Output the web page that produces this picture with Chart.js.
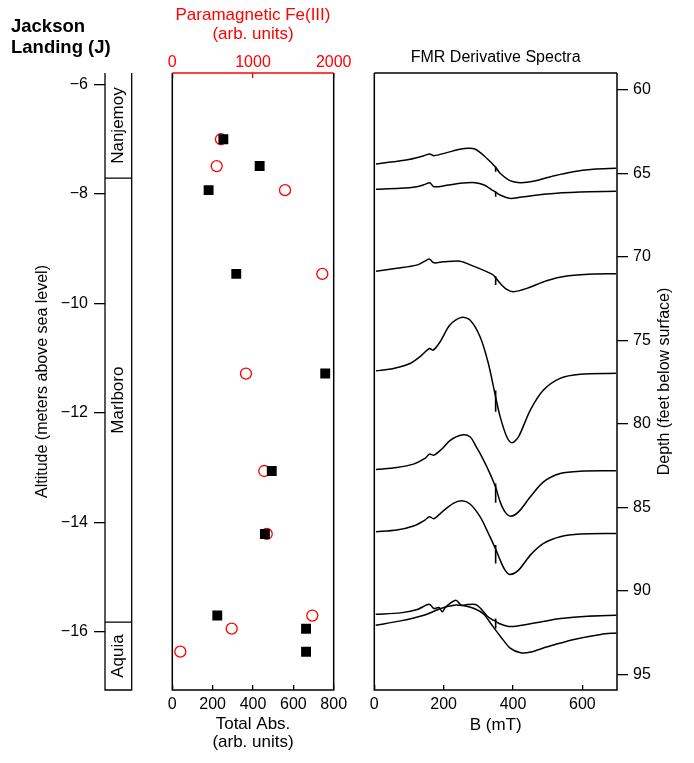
<!DOCTYPE html>
<html>
<head>
<meta charset="utf-8">
<script src="https://cdn.jsdelivr.net/npm/chart.js@4"></script>
<style>
  html, body { margin: 0; padding: 0; background: #fff; }
  #wrap { position: relative; width: 694px; height: 763px; }
  #wrap canvas { position: absolute; left: 0; top: 0; }
</style>
</head>
<body>
<div id="wrap">
  <canvas id="column" width="694" height="763"></canvas>
  <canvas id="scatter" width="694" height="763"></canvas>
  <canvas id="fmr" width="694" height="763"></canvas>
</div>
<script>
// ---- data ----
const altMin = -17.06, altMax = -5.79;
const altTicks = [-6, -8, -10, -12, -14, -16];
const formations = ["Nanjemoy", "Marlboro", "Aquia"];
const formationTops = [-5.79, -7.71, -15.82];
const formationBases = [-7.71, -15.82, -17.06];

const sampleAlt = [-7.00, -7.49, -7.93, -9.46, -11.28, -13.06, -14.21, -15.70, -15.94, -16.36];
const totalAbs  = [253, 433, 180, 317, 758, 493, 459, 223, 663, 663];
const fe3       = [603, 550, 1397, 1859, 913, 1140, 1170, 1735, 736, 99];
const totalAbsTicks = [0, 200, 400, 600, 800];
const fe3Ticks = [0, 1000, 2000];

const fieldTicks = [0, 200, 400, 600];
const depthMin = 58.98, depthMax = 95.94;
const depthTicks = [60, 65, 70, 75, 80, 85, 90, 95];

// FMR derivative spectra: [B (mT), depth (ft)]
const spec1 = [[5,64.43],[55,64.30],[103,64.15],[141,63.95],[160,63.83],[172,63.93],[209,63.75],[247,63.55],[271,63.49],[290,63.53],[314,63.89],[339,64.39],[350,64.62],[363,64.99],[391,65.43],[420,65.55],[459,65.47],[516,65.15],[574,64.89],[632,64.75],[697,64.69]];
const spec2 = [[5,65.95],[74,65.89],[122,65.79],[146,65.65],[160,65.55],[172,65.79],[209,65.71],[247,65.59],[290,65.55],[317,65.69],[343,66.03],[350,66.12],[363,66.29],[391,66.49],[420,66.43],[497,66.23],[593,66.11],[697,66.07]];
const spec3 = [[5,70.86],[65,70.68],[122,70.49],[146,70.25],[159,70.13],[172,70.35],[199,70.29],[247,70.25],[286,70.55],[324,70.88],[343,71.08],[350,71.25],[363,71.58],[382,71.94],[401,72.08],[440,71.88],[497,71.42],[555,71.14],[632,71.02],[697,71.00]];
const spec4 = [[5,76.82],[55,76.68],[103,76.38],[137,75.88],[159,75.48],[170,75.58],[190,75.08],[218,74.08],[252,73.62],[276,73.78],[305,74.78],[329,76.38],[350,78.40],[363,79.57],[382,80.77],[397,81.13],[416,80.77],[450,79.17],[488,77.97],[536,77.27],[594,77.03],[697,76.97]];
const spec5 = [[5,82.73],[65,82.61],[113,82.41],[146,82.07],[159,81.81],[172,81.87],[195,81.50],[218,81.00],[252,80.67],[276,80.77],[294,81.37],[305,81.77],[329,82.77],[350,83.80],[363,84.67],[377,85.27],[393,85.53],[416,85.27],[450,84.37],[488,83.47],[536,82.97],[594,82.83],[697,82.81]];
const spec6 = [[5,86.46],[65,86.36],[113,86.12],[146,85.76],[159,85.56],[172,85.68],[199,85.21],[228,84.76],[252,84.61],[276,84.80],[305,85.56],[329,86.56],[350,87.50],[363,88.16],[377,88.76],[391,89.02],[416,88.76],[450,87.86],[488,87.16],[536,86.76],[594,86.60],[697,86.56]];
const spec7 = [[4,91.40],[76,91.32],[124,91.12],[158,90.80],[172,91.06],[187,91.00],[196,91.26],[206,90.96],[235,90.56],[251,90.86],[268,90.82],[292,90.82],[307,91.06],[326,91.52],[340,91.72],[350,91.82],[360,91.96],[384,92.12],[413,92.10],[480,91.86],[538,91.66],[615,91.52],[698,91.46]];
const spec8 = [[4,92.06],[76,91.80],[143,91.46],[192,91.06],[230,90.86],[259,90.90],[288,91.06],[316,91.40],[336,91.96],[365,92.76],[393,93.45],[422,93.71],[451,93.67],[499,93.35],[576,92.91],[653,92.61],[698,92.52]];
const spectra = [spec1, spec2, spec3, spec4, spec5, spec6, spec7, spec8];

// short vertical marker at B = 350 mT on spectra 1-7: [top, bottom] depth
const markerB = 350;
const markerTop    = [64.59, 66.08, 71.15, 78.00, 83.57, 87.26, 91.66];
const markerBottom = [64.89, 66.39, 71.68, 79.27, 84.73, 88.36, 92.25];

// ---- shared setup ----
const FONT = "'Liberation Sans', Arial, Helvetica, sans-serif";
Chart.defaults.font.family = FONT;
Chart.defaults.color = "#000";
Chart.defaults.animation = false;
Chart.defaults.responsive = false;
Chart.defaults.plugins.legend.display = false;
Chart.defaults.plugins.tooltip.enabled = false;

const minus = v => (v < 0 ? "\u2212" + Math.abs(v) : String(v));
const fixTicks = arr => s => { s.ticks = arr.map(v => ({ value: v })); };

function frame(ctx, a, topColor) {
  ctx.save();
  ctx.lineWidth = 1.5;
  ctx.strokeStyle = "#000";
  ctx.beginPath();
  ctx.moveTo(a.left, a.top);
  ctx.lineTo(a.left, a.bottom);
  ctx.lineTo(a.right, a.bottom);
  ctx.lineTo(a.right, a.top);
  ctx.stroke();
  ctx.strokeStyle = topColor;
  ctx.beginPath();
  ctx.moveTo(a.left, a.top);
  ctx.lineTo(a.right, a.top);
  ctx.stroke();
  ctx.restore();
}

// ---- panel 1: formation column ----
const columnPlugin = {
  id: "columnPlugin",
  afterDraw(chart) {
    const { ctx, chartArea: a, scales: { y } } = chart;
    ctx.save();
    ctx.strokeStyle = "#000";
    ctx.lineWidth = 1.3;
    ctx.beginPath();
    ctx.moveTo(a.left, a.top); ctx.lineTo(a.left, a.bottom);
    ctx.lineTo(a.right, a.bottom); ctx.lineTo(a.right, a.top);
    formationBases.slice(0, -1).forEach(v => {
      const py = y.getPixelForValue(v);
      ctx.moveTo(a.left, py); ctx.lineTo(a.right, py);
    });
    ctx.stroke();

    ctx.fillStyle = "#000";
    ctx.font = "17px " + FONT;
    ctx.textAlign = "center";
    ctx.textBaseline = "middle";
    formations.forEach((name, i) => {
      const mid = (y.getPixelForValue(formationTops[i]) + y.getPixelForValue(formationBases[i])) / 2;
      ctx.save();
      ctx.translate((a.left + a.right) / 2, mid);
      ctx.rotate(-Math.PI / 2);
      ctx.fillText(name, 0, 0);
      ctx.restore();
    });

    ctx.font = "bold 18.5px " + FONT;
    ctx.textAlign = "left";
    ctx.textBaseline = "alphabetic";
    ctx.fillText("Jackson", 11, 32.3);
    ctx.fillText("Landing (J)", 11, 53.3);
    ctx.restore();
  }
};

new Chart(document.getElementById("column"), {
  type: "scatter",
  data: { datasets: [] },
  options: {
    layout: { padding: { left: 0, top: 73, right: 694 - 131.7, bottom: 73 } },
    scales: {
      x: { display: false, min: 0, max: 1 },
      y: {
        min: altMin, max: altMax,
        afterFit: s => { s.width = 105; },
        afterBuildTicks: fixTicks(altTicks),
        border: { display: false },
        grid: { drawOnChartArea: false, tickLength: 11, color: "#000", lineWidth: 1.3 },
        ticks: { padding: 6, font: { size: 16 }, callback: v => minus(v) },
        title: {
          display: true, text: "Altitude (meters above sea level)",
          font: { size: 16 }, padding: { top: 32.8, bottom: 0 }
        }
      }
    }
  },
  plugins: [columnPlugin]
});

// ---- panel 2: Total Abs. and paramagnetic Fe(III) ----
new Chart(document.getElementById("scatter"), {
  type: "scatter",
  data: {
    datasets: [
      {
        label: "Total Abs.",
        data: sampleAlt.map((a, i) => ({ x: totalAbs[i], y: a })),
        xAxisID: "x",
        pointStyle: "rect",
        pointRadius: 7,
        backgroundColor: "#000",
        borderColor: "#000",
        borderWidth: 0
      },
      {
        label: "Paramagnetic Fe(III)",
        data: sampleAlt.map((a, i) => ({ x: fe3[i], y: a })),
        xAxisID: "x2",
        pointStyle: "circle",
        pointRadius: 5.5,
        backgroundColor: "rgba(0,0,0,0)",
        borderColor: "#ff0000",
        borderWidth: 1.3
      }
    ]
  },
  options: {
    layout: { padding: { left: 172.3, top: 0, right: 694 - 333.7, bottom: 0 } },
    scales: {
      y: { display: false, min: altMin, max: altMax },
      x: {
        position: "bottom", min: 0, max: 800,
        afterFit: s => { s.height = 73; },
        afterBuildTicks: fixTicks(totalAbsTicks),
        border: { display: false },
        grid: { drawOnChartArea: false, tickLength: -5, color: "#000", lineWidth: 1.3 },
        ticks: { padding: 9.9, font: { size: 16 }, maxRotation: 0, autoSkip: false, callback: v => String(v) },
        title: {
          display: true, text: ["Total Abs.", "(arb. units)"],
          font: { size: 17, lineHeight: 1.035 }, padding: { top: 0, bottom: 11.8 }
        }
      },
      x2: {
        type: "linear", position: "top", min: 0, max: 2000,
        afterFit: s => { s.height = 73; },
        afterBuildTicks: fixTicks(fe3Ticks),
        border: { display: false },
        grid: { drawOnChartArea: false, tickLength: -5, color: "#ff0000", lineWidth: 1.3 },
        ticks: { padding: 5.6, color: "#ff0000", font: { size: 16 }, maxRotation: 0, autoSkip: false, callback: v => String(v) },
        title: {
          display: true, text: ["Paramagnetic Fe(III)", "(arb. units)"], color: "#ff0000",
          font: { size: 17, lineHeight: 1.16 }, padding: { top: 5, bottom: 0 }
        }
      }
    }
  },
  plugins: [{ id: "frame2", afterDraw: c => frame(c.ctx, c.chartArea, "#ff0000") }]
});

// ---- panel 3: FMR derivative spectra ----
const fmrText = {
  id: "fmrText",
  afterDraw(chart) {
    const { ctx, chartArea: a } = chart;
    frame(ctx, a, "#000");
    ctx.save();
    ctx.fillStyle = "#000";
    ctx.font = "16px " + FONT;
    ctx.textAlign = "center";
    ctx.textBaseline = "alphabetic";
    ctx.fillText("FMR Derivative Spectra", (a.left + a.right) / 2, 62);
    ctx.textBaseline = "middle";
    ctx.translate(664.4, (a.top + a.bottom) / 2);
    ctx.rotate(-Math.PI / 2);
    ctx.fillText("Depth (feet below surface)", 0, 0);
    ctx.restore();
  }
};

const curveSets = spectra.map((s, i) => ({
  label: "spectrum " + (i + 1),
  data: s.map(p => ({ x: p[0], y: p[1] })),
  showLine: true,
  pointRadius: 0,
  borderColor: "#000",
  borderWidth: 1.5,
  tension: 0.3,
  fill: false
}));
const markerSets = markerTop.map((t, i) => ({
  label: "marker " + (i + 1),
  data: [{ x: markerB, y: t }, { x: markerB, y: markerBottom[i] }],
  showLine: true,
  pointRadius: 0,
  borderColor: "#000",
  borderWidth: 1.6,
  tension: 0
}));

new Chart(document.getElementById("fmr"), {
  type: "scatter",
  data: { datasets: curveSets.concat(markerSets) },
  options: {
    layout: { padding: { left: 374.3, top: 73, right: 0, bottom: 0 } },
    scales: {
      x: {
        position: "bottom", min: 0, max: 700,
        afterFit: s => { s.height = 73; },
        afterBuildTicks: fixTicks(fieldTicks),
        border: { display: false },
        grid: { drawOnChartArea: false, tickLength: -5, color: "#000", lineWidth: 1.3 },
        ticks: { padding: 9.9, font: { size: 16 }, maxRotation: 0, autoSkip: false, callback: v => String(v) },
        title: {
          display: true, text: "B (mT)",
          font: { size: 17, lineHeight: 1.035 }, padding: { top: 0, bottom: 28.6 }
        }
      },
      y: {
        position: "right", reverse: true, min: depthMin, max: depthMax,
        afterFit: s => { s.width = 694 - 617; },
        afterBuildTicks: fixTicks(depthTicks),
        border: { display: false },
        grid: { drawOnChartArea: false, tickLength: 11, color: "#000", lineWidth: 1.3 },
        ticks: { padding: 5, font: { size: 16 }, callback: v => String(v) }
      }
    }
  },
  plugins: [fmrText]
});
</script>
</body>
</html>
